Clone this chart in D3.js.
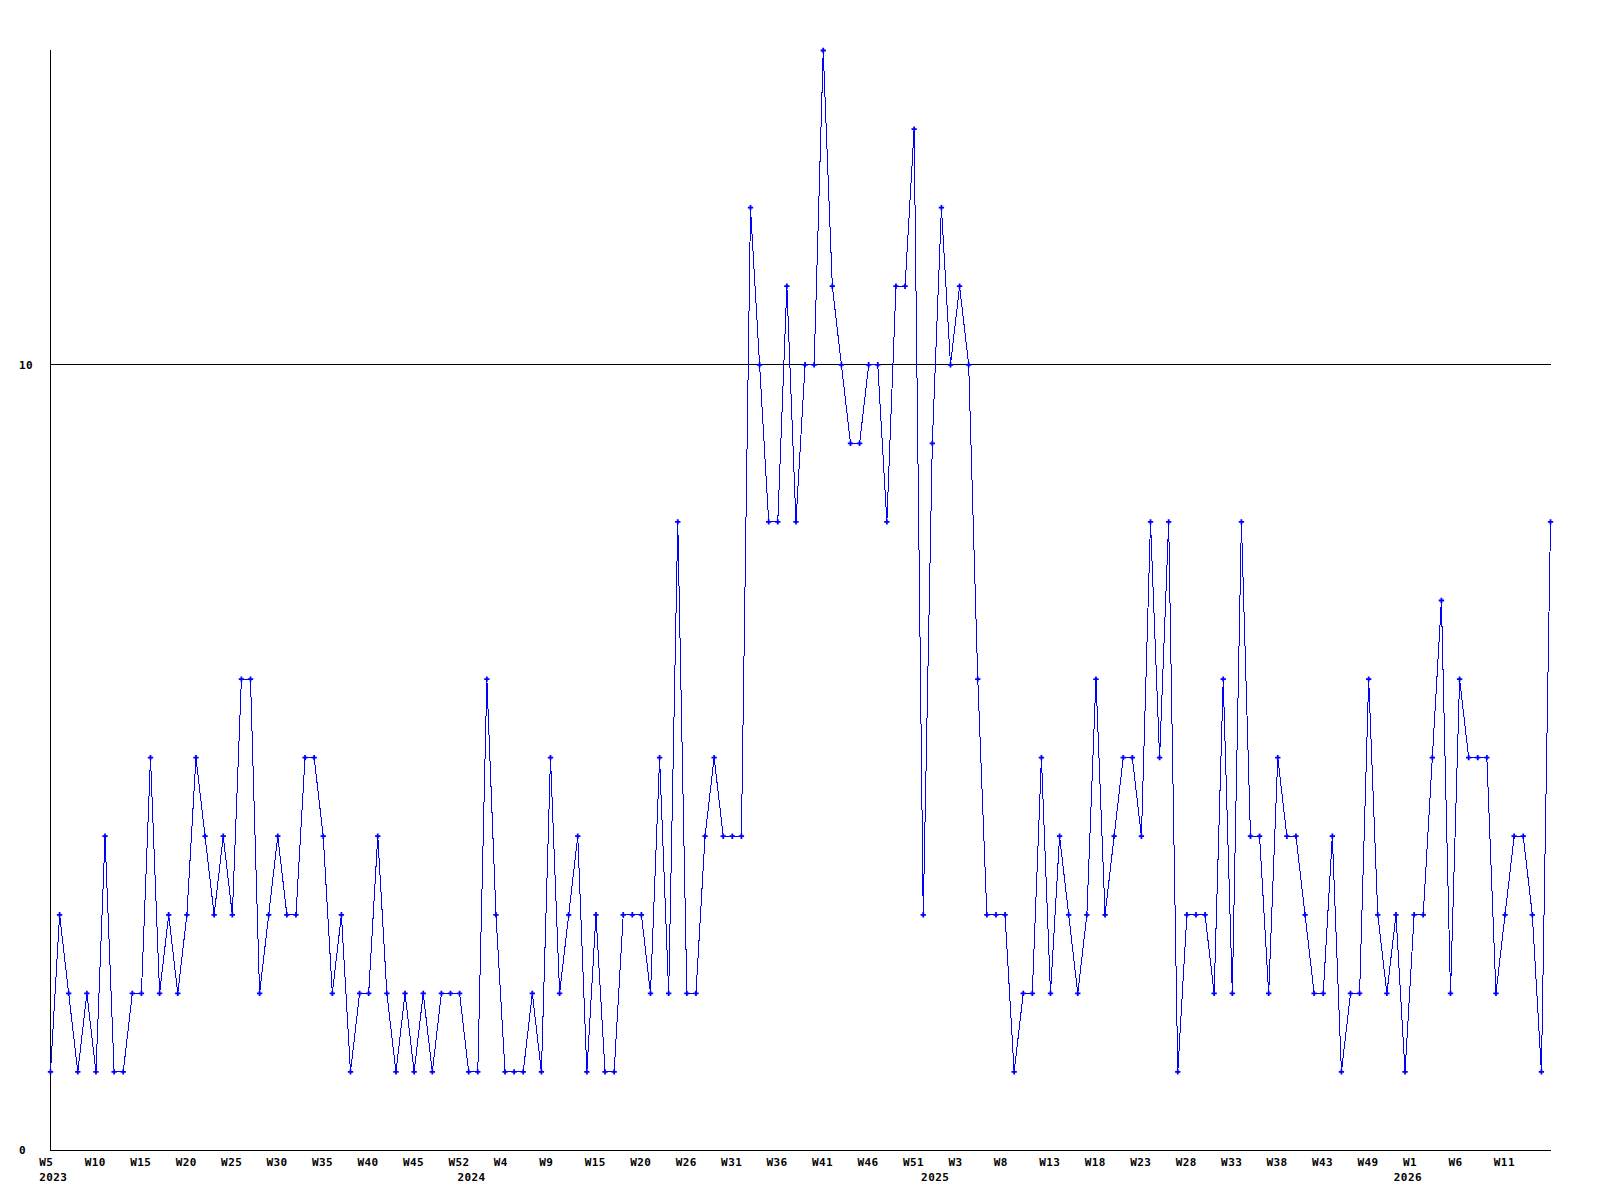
<!DOCTYPE html>
<html>
<head>
<meta charset="utf-8">
<script src="https://cdn.jsdelivr.net/npm/d3@7"></script>
<style>
  body { margin: 0; background: #fff; }
  text { font-family: "DejaVu Sans Mono", monospace; font-weight: bold; font-size: 11px; letter-spacing: 0.4px; fill: #000; }
</style>
</head>
<body>
<svg id="chart" width="1600" height="1200"></svg>
<script>
// weekly counts, 2023 W5 onwards
const values = [
    1, 3, 2, 1, 2, 1, 4, 1, 1, 2,
    2, 5, 2, 3, 2, 3, 5, 4, 3, 4,
    3, 6, 6, 2, 3, 4, 3, 3, 5, 5,
    4, 2, 3, 1, 2, 2, 4, 2, 1, 2,
    1, 2, 1, 2, 2, 2, 1, 1, 6, 3,
    1, 1, 1, 2, 1, 5, 2, 3, 4, 1,
    3, 1, 1, 3, 3, 3, 2, 5, 2, 8,
    2, 2, 4, 5, 4, 4, 4, 12, 10, 8,
    8, 11, 8, 10, 10, 14, 11, 10, 9, 9,
    10, 10, 8, 11, 11, 13, 3, 9, 12, 10,
    11, 10, 6, 3, 3, 3, 1, 2, 2, 5,
    2, 4, 3, 2, 3, 6, 3, 4, 5, 5,
    4, 8, 5, 8, 1, 3, 3, 3, 2, 6,
    2, 8, 4, 4, 2, 5, 4, 4, 3, 2,
    2, 4, 1, 2, 2, 6, 3, 2, 3, 1,
    3, 3, 5, 7, 2, 6, 5, 5, 5, 2,
    3, 4, 4, 3, 1, 8
];

// one label every 5th point
const weekLabels = ['W5', 'W10', 'W15', 'W20', 'W25', 'W30', 'W35', 'W40', 'W45', 'W52',
    'W4', 'W9', 'W15', 'W20', 'W26', 'W31', 'W36', 'W41', 'W46', 'W51',
    'W3', 'W8', 'W13', 'W18', 'W23', 'W28', 'W33', 'W38', 'W43', 'W49',
    'W1', 'W6', 'W11'];
const LABEL_SKIP = 5;

const years = ['2023', '2024', '2025', '2026'];
const yearStartIdx = [0, 46, 97, 149];

const yTicks = [0, 10];
const Y_MAX = 14;

const LEFT = 50, RIGHT = 1550, TOP = 50, BOTTOM = 1150;
const LABEL_SHIFT = 10.7;

let svg = d3.select('#chart');

let x = d3.scaleLinear()
    .domain([0, values.length - 1])
    .range([LEFT, RIGHT]);

let y = d3.scaleLinear()
    .domain([0, Y_MAX])
    .range([BOTTOM, TOP]);

// horizontal rule at 10
svg.append('g')
    .selectAll('line')
    .data(yTicks.filter(t => t > 0))
    .enter().append('line')
    .attr('x1', LEFT)
    .attr('x2', RIGHT + 1)
    .attr('y1', d => Math.round(y(d)) + 0.5)
    .attr('y2', d => Math.round(y(d)) + 0.5)
    .attr('stroke', '#000')
    .attr('stroke-width', 1)

// axes
svg.append('line')
    .attr('x1', LEFT + 0.5).attr('x2', LEFT + 0.5)
    .attr('y1', TOP).attr('y2', BOTTOM + 1)
    .attr('stroke', '#000')
svg.append('line')
    .attr('x1', LEFT).attr('x2', RIGHT + 1)
    .attr('y1', BOTTOM + 0.5).attr('y2', BOTTOM + 0.5)
    .attr('stroke', '#000')

// y labels, left aligned
svg.append('g')
    .selectAll('text')
    .data(yTicks)
    .enter().append('text')
    .attr('x', 19)
    .attr('y', d => y(d) + 4.3)
    .text(d => d)

// x labels
svg.append('g')
    .selectAll('text')
    .data(weekLabels)
    .enter().append('text')
    .attr('x', (d, i) => x(i * LABEL_SKIP) - LABEL_SHIFT)
    .attr('y', BOTTOM + 16)
    .text(d => d)

svg.append('g')
    .selectAll('text')
    .data(years)
    .enter().append('text')
    .attr('x', (d, i) => x(yearStartIdx[i]) - LABEL_SHIFT)
    .attr('y', BOTTOM + 31)
    .text(d => d)

// the series
const line = d3.line()
    .x((d, i) => x(i) + 0.5)
    .y(d => y(d) + 0.5)

svg.append('path')
    .datum(values)
    .attr('d', line)
    .attr('fill', 'none')
    .attr('stroke', '#0000ff')
    .attr('stroke-width', 1)
    .attr('shape-rendering', 'crispEdges')

const marker = d3.symbol().type(d3.symbolCross).size(16);

svg.append('g')
    .selectAll('path')
    .data(values)
    .enter().append('path')
    .attr('d', marker)
    .attr('transform', (d, i) => `translate(${x(i) + 0.5},${y(d) + 0.5})`)
    .attr('fill', '#0000ff')
</script>
</body>
</html>
